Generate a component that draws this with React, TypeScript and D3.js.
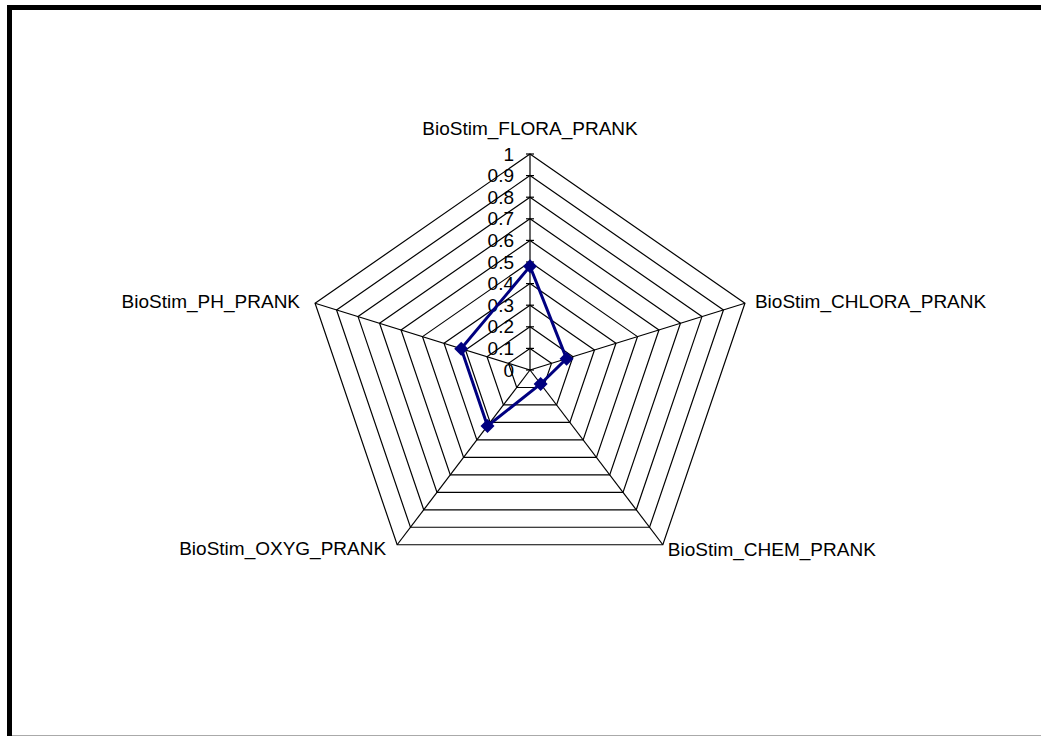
import React, { useEffect, useRef } from 'react';
import * as d3 from 'd3';

const categories = [
  'BioStim_FLORA_PRANK',
  'BioStim_CHLORA_PRANK',
  'BioStim_CHEM_PRANK',
  'BioStim_OXYG_PRANK',
  'BioStim_PH_PRANK',
];
const seriesValues = [0.48, 0.17, 0.08, 0.32, 0.32];
const tickValues = [0, 0.1, 0.2, 0.3, 0.4, 0.5, 0.6, 0.7, 0.8, 0.9, 1];
const tickLabels = ['0', '0.1', '0.2', '0.3', '0.4', '0.5', '0.6', '0.7', '0.8', '0.9', '1'];

// label placement relative to each axis end: [dx, dy, anchor]
const labelOffsets: [number, number, string][] = [
  [0, -19, 'middle'],
  [10, 5, 'start'],
  [5, 11, 'start'],
  [-11, 10, 'end'],
  [-15, 5, 'end'],
];

const App = () => {
  const svgRef = useRef<SVGSVGElement>(null);

  useEffect(() => {
    const width = 1041;
    const height = 736;
    const cx = 530;
    const cy = 370;
    const rx = 226;
    const ry = 216;
    const font = '"Liberation Sans", Arial, sans-serif';

    d3.select(svgRef.current).selectAll('*').remove();
    const svg = d3.select(svgRef.current)
      .attr('width', width)
      .attr('height', height);

    svg.append('rect')
      .attr('width', width)
      .attr('height', height)
      .attr('fill', '#fff');

    // frame
    svg.append('line')
      .attr('x1', 9.5).attr('y1', 5).attr('x2', 9.5).attr('y2', height)
      .attr('stroke', '#000').attr('stroke-width', 5);
    svg.append('line')
      .attr('x1', 7).attr('y1', 7.5).attr('x2', width).attr('y2', 7.5)
      .attr('stroke', '#000').attr('stroke-width', 5);
    svg.append('line')
      .attr('x1', 12).attr('y1', 735.5).attr('x2', width).attr('y2', 735.5)
      .attr('stroke', '#aaa').attr('stroke-width', 1);

    const r = d3.scaleLinear().domain([0, 1]).range([0, 1]);
    const n = categories.length;
    const angle = (i: number) => (Math.PI * 2 * i) / n;
    const pt = (i: number, v: number): [number, number] => [
      cx + r(v) * rx * Math.sin(angle(i)),
      cy - r(v) * ry * Math.cos(angle(i)),
    ];

    const g = svg.append('g');
    const line = d3.line();

    // grid pentagons
    tickValues.slice(1).forEach(t => {
      const pts = categories.map((_, i) => pt(i, t));
      g.append('path')
        .attr('d', line(pts) + 'Z')
        .attr('fill', 'none')
        .attr('stroke', '#000')
        .attr('stroke-width', 1.2);
    });

    // spokes
    categories.forEach((_, i) => {
      const [x, y] = pt(i, 1);
      g.append('line')
        .attr('x1', cx).attr('y1', cy).attr('x2', x).attr('y2', y)
        .attr('stroke', '#000').attr('stroke-width', 1.2);
    });

    // tick marks + labels on first axis
    tickValues.forEach((t, k) => {
      const [x, y] = pt(0, t);
      g.append('line')
        .attr('x1', x - 4).attr('x2', x + 4)
        .attr('y1', y).attr('y2', y)
        .attr('stroke', '#000').attr('stroke-width', 1.2);
      g.append('text')
        .attr('x', x - 16)
        .attr('y', y)
        .attr('text-anchor', 'end')
        .attr('dominant-baseline', 'central')
        .attr('font-family', font)
        .attr('font-size', '19px')
        .attr('fill', '#000')
        .text(tickLabels[k]);
    });

    // category labels
    categories.forEach((c, i) => {
      const [x, y] = pt(i, 1);
      const [dx, dy, anchor] = labelOffsets[i];
      g.append('text')
        .attr('x', x + dx)
        .attr('y', y + dy)
        .attr('text-anchor', anchor)
        .attr('font-family', font)
        .attr('font-size', '19px')
        .attr('fill', '#000')
        .text(c);
    });

    // data series
    const dataPts = seriesValues.map((v, i) => pt(i, v));
    g.append('path')
      .attr('d', line(dataPts) + 'Z')
      .attr('fill', 'none')
      .attr('stroke', '#000080')
      .attr('stroke-width', 3);

    const m = 7;
    g.selectAll('.marker')
      .data(dataPts)
      .enter()
      .append('path')
      .attr('d', d => `M${d[0]},${d[1] - m}L${d[0] + m},${d[1]}L${d[0]},${d[1] + m}L${d[0] - m},${d[1]}Z`)
      .attr('fill', '#000080');
  }, []);

  return (
    <svg ref={svgRef} style={{ position: 'absolute', left: 0, top: 0, display: 'block' }} />
  );
};

export default App;
